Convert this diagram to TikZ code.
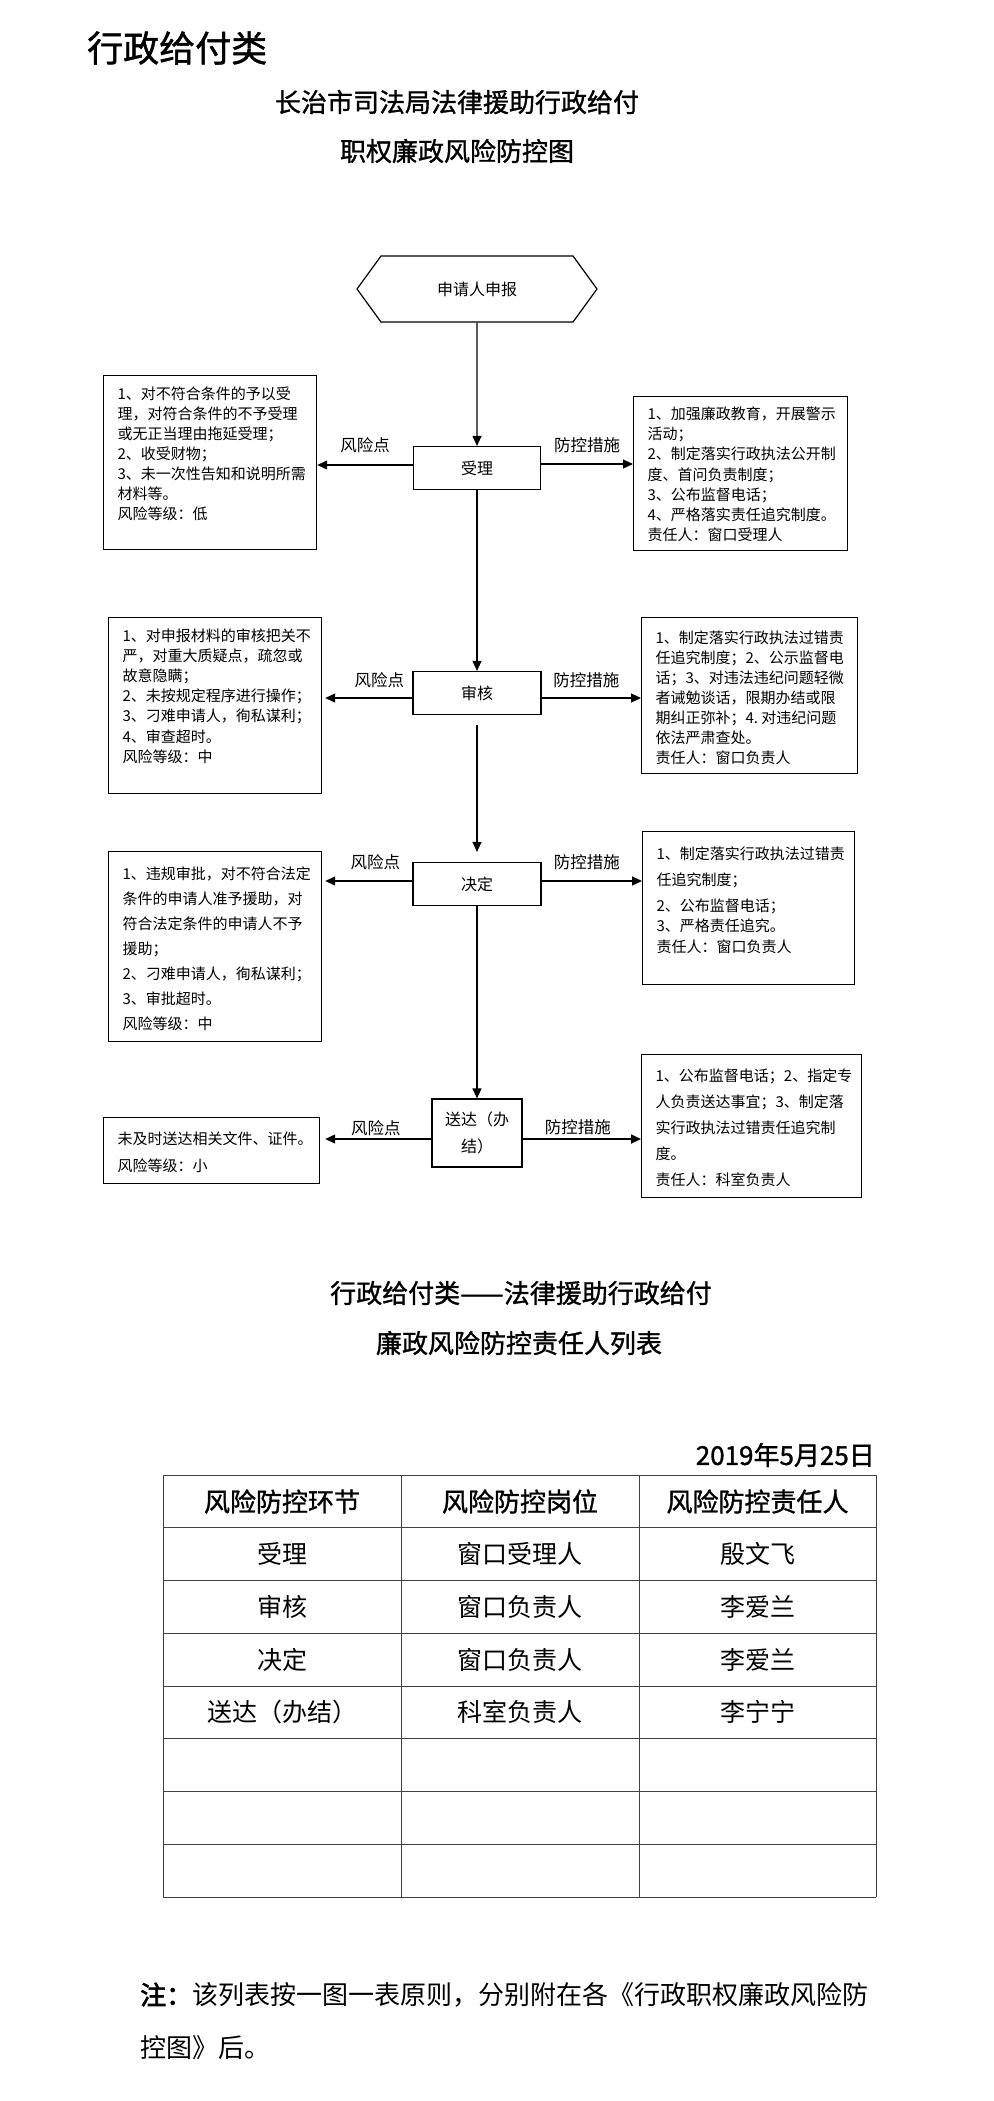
\documentclass[tikz,border=0pt]{standalone}
\usepackage{fontspec}
\setmainfont{Noto Sans CJK SC}
\newfontfamily\notebold[FakeBold=2.5]{Noto Sans CJK SC}
\newfontfamily\headfont[FakeBold=1.2]{Noto Sans CJK SC}
\usetikzlibrary{
  arrows.meta,
  positioning,
  shapes.symbols,
  calc
}
% lines of a side box: box width, box height, line skip, first strut, text
\newcommand{\boxtext}[5]{\parbox[c][#2][t]{\dimexpr#1-24pt\relax}{\fontsize{15}{#3}\selectfont\raggedright\rule{0pt}{#4}#5}}

\begin{document}
\begin{tikzpicture}[x=1pt, y=-1pt,
  stage/.style={rectangle, draw, line width=1.2pt, font=\fontsize{16}{27}\selectfont, minimum height=43pt, inner sep=0pt},
  sidebox/.style={rectangle, draw, line width=1.2pt, anchor=north west, inner xsep=14pt, inner ysep=0pt},
  arr/.style={-{Triangle[length=10pt, width=9pt]}, line width=1.2pt},
  lbl/.style={font=\fontsize{16.5}{20}\selectfont, inner sep=0pt},
  heading/.style={font=\headfont\fontsize{26}{30}\selectfont, inner sep=0pt},
  cell/.style={font=\fontsize{25}{30}\selectfont, inner sep=0pt},
  grid/.style={line width=1pt, black!75},
  note/.style={font=\fontsize{26}{30}\selectfont, inner sep=0pt, anchor=west},
]
\useasboundingbox (0,0) rectangle (993,2101);

\node[font=\headfont\fontsize{36}{40}\selectfont, inner sep=0pt, anchor=west] (kind) at (87,48) {行政给付类};
\node[heading] (title1) at (457,102) {长治市司法局法律援助行政给付};
\node[heading] (title2) at (457,151) {职权廉政风险防控图};

% flow
\node[signal, signal to=west and east, draw, line width=1.2pt, minimum width=240pt, minimum height=66pt, signal pointer angle=108, font=\fontsize{16}{20}\selectfont] (apply) at (477,289) {申请人申报};
\node[stage, minimum width=127pt] (accept) at (477,468) {受理};
\node[stage, minimum width=128pt] (review) at (477,693) {审核};
\node[stage, minimum width=128pt] (decide) at (477,884) {决定};
\node[stage, minimum width=90pt, minimum height=68pt, align=center] (deliver) at (477,1133) {送达（办\\结）};

\node[sidebox] (risk1) at (103,375) {\boxtext{209pt}{174pt}{20pt}{23.5pt}{1、对不符合条件的予以受\\理，对符合条件的不予受理\\或无正当理由拖延受理；\\2、收受财物；\\3、未一次性告知和说明所需\\材料等。\\风险等级：低}};
\node[sidebox] (ctrl1) at (633,396) {\boxtext{210pt}{154pt}{20.3pt}{22.5pt}{1、加强廉政教育，开展警示\\活动；\\2、制定落实行政执法公开制\\度、首问负责制度；\\3、公布监督电话；\\4、严格落实责任追究制度。\\责任人：窗口受理人}};

\node[sidebox] (risk2) at (108,617) {\boxtext{209pt}{176pt}{20.2pt}{23.5pt}{1、对申报材料的审核把关不\\严，对重大质疑点，疏忽或\\故意隐瞒；\\2、未按规定程序进行操作；\\3、刁难申请人，徇私谋利；\\4、审查超时。\\风险等级：中}};
\node[sidebox] (ctrl2) at (641,617) {\boxtext{212pt}{156pt}{20pt}{25.5pt}{1、制定落实行政执法过错责\\任追究制度；2、公示监督电\\话；3、对违法违纪问题轻微\\者诫勉谈话，限期办结或限\\期纠正弥补；4.~对违纪问题\\依法严肃查处。\\责任人：窗口负责人}};

\node[sidebox] (risk3) at (108,851) {\boxtext{209pt}{190pt}{25pt}{27.5pt}{1、违规审批，对不符合法定\\条件的申请人准予援助，对\\符合法定条件的申请人不予\\援助；\\2、刁难申请人，徇私谋利；\\3、审批超时。\\风险等级：中}};
\node[sidebox] (ctrl3) at (642,831) {\boxtext{208pt}{153pt}{20.5pt}{27.5pt}{1、制定落实行政执法过错责\\[5.5pt]任追究制度；\\[5.5pt]2、公布监督电话；\\3、严格责任追究。\\责任人：窗口负责人}};

\node[sidebox] (risk4) at (103,1117) {\boxtext{212pt}{66pt}{27pt}{26.5pt}{未及时送达相关文件、证件。\\风险等级：小}};
\node[sidebox] (ctrl4) at (641,1054) {\boxtext{216pt}{143pt}{26pt}{26.5pt}{1、公布监督电话；2、指定专\\人负责送达事宜；3、制定落\\实行政执法过错责任追究制\\度。\\责任人：科室负责人}};

\draw[arr] (apply) -- (accept);
\draw[arr] (accept) -- (review);
\draw[arr, shorten <=10pt, shorten >=10pt] (review) -- (decide);
\draw[arr] (decide) -- (deliver);

\draw[arr] ([yshift=3pt]accept.west) -- ([yshift=3pt]accept.west -| risk1.east) node[lbl, midway, above=12pt] {风险点};
\draw[arr] ([yshift=4pt]accept.east) -- ([yshift=4pt]accept.east -| ctrl1.west) node[lbl, midway, above=11pt] {防控措施};
\draw[arr, shorten >=3pt] ([yshift=-5pt]review.west) -- ([yshift=-5pt]review.west -| risk2.east) node[lbl, midway, above=10pt, xshift=12pt] {风险点};
\draw[arr] ([yshift=-5pt]review.east) -- ([yshift=-5pt]review.east -| ctrl2.west) node[lbl, midway, above=10pt, xshift=-5pt] {防控措施};
\draw[arr, shorten >=3pt] ([yshift=3pt]decide.west) -- ([yshift=3pt]decide.west -| risk3.east) node[lbl, midway, above=11pt, xshift=8pt] {风险点};
\draw[arr] ([yshift=3pt]decide.east) -- ([yshift=3pt]decide.east -| ctrl3.west) node[lbl, midway, above=11pt, xshift=-5pt] {防控措施};
\draw[arr, shorten >=5pt] ([yshift=-6pt]deliver.west) -- ([yshift=-6pt]deliver.west -| risk4.east) node[lbl, midway, above=3pt] {风险点};
\draw[arr, line width=2pt] ([yshift=-6pt]deliver.east) -- ([yshift=-6pt]deliver.east -| ctrl4.west) node[lbl, midway, above=3pt, xshift=-4pt] {防控措施};

% list
\node[heading] (title3) at (521,1293) {行政给付类——法律援助行政给付};
\node[heading] (title4) at (519,1343) {廉政风险防控责任人列表};
\node[font=\headfont\fontsize{26}{30}\selectfont, inner sep=0pt, anchor=east] (date) at (875,1455) {2019年5月25日};

\draw[grid] (163,1475) -- (876,1475) (163,1527.75) -- (876,1527.75) (163,1580.5) -- (876,1580.5)
  (163,1633.25) -- (876,1633.25) (163,1686) -- (876,1686) (163,1738.75) -- (876,1738.75)
  (163,1791.5) -- (876,1791.5) (163,1844.25) -- (876,1844.25) (163,1897) -- (876,1897);
\draw[grid] (163,1475) -- (163,1897) (401,1475) -- (401,1897) (639,1475) -- (639,1897) (876,1475) -- (876,1897);

\node[heading] (h1) at (282,1501.5) {风险防控环节};
\node[heading] (h2) at (520,1501.5) {风险防控岗位};
\node[heading] (h3) at (757.5,1501.5) {风险防控责任人};
\node[cell] (a1) at (282,1554) {受理};
\node[cell] (b1) at (520,1554) {窗口受理人};
\node[cell] (c1) at (757.5,1554) {殷文飞};
\node[cell] (a2) at (282,1607) {审核};
\node[cell] (b2) at (520,1607) {窗口负责人};
\node[cell] (c2) at (757.5,1607) {李爱兰};
\node[cell] (a3) at (282,1659.5) {决定};
\node[cell] (b3) at (520,1659.5) {窗口负责人};
\node[cell] (c3) at (757.5,1659.5) {李爱兰};
\node[cell] (a4) at (282,1712) {送达（办结）};
\node[cell] (b4) at (520,1712) {科室负责人};
\node[cell] (c4) at (757.5,1712) {李宁宁};

\node[note] (note1) at (140,1995) {{\notebold 注：}该列表按一图一表原则，分别附在各《行政职权廉政风险防};
\node[note] (note2) at (140,2048) {控图》后。};

\end{tikzpicture}
\end{document}
